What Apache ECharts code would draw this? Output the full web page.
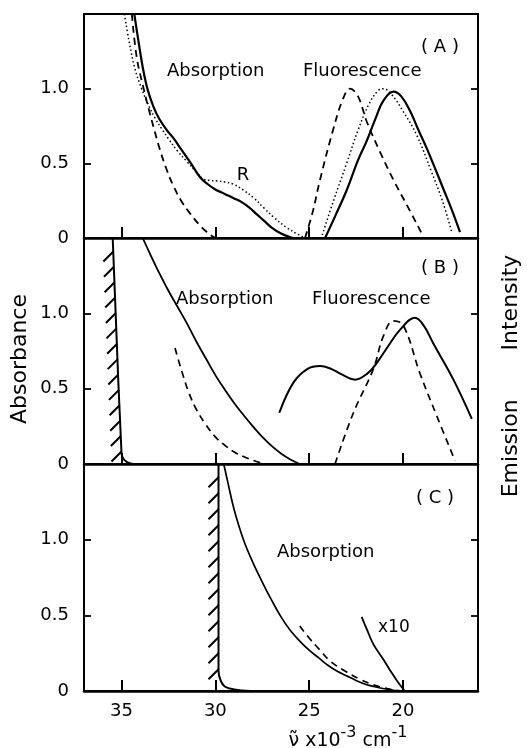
<!DOCTYPE html>
<html><head><meta charset="utf-8">
<script src="https://cdn.jsdelivr.net/npm/echarts@6/dist/echarts.min.js"></script>
<style>html,body{margin:0;padding:0;background:#fff;}#c{width:527px;height:748px;}</style>
</head><body><div id="c"></div>
<script>
// ---- axis ticks ----
const xTicks = [35, 30, 25, 20];
const yTickLabels = [0, 0.5, 1.0];
const yInnerTicks = [0.5, 1.0];

// ---- Panel A (wavenumber x10^-3 cm^-1, absorbance / intensity) ----
const A_absSolid = [[34.32,1.5],[34.1,1.32],[33.85,1.13],[33.6,0.99],[33.3,0.88],[33.0,0.8],[32.6,0.725],[32.24,0.67],[31.8,0.59],[31.3,0.5],[30.8,0.405],[30.4,0.36],[30.0,0.325],[29.5,0.295],[29.0,0.265],[28.6,0.24],[28.2,0.205],[27.8,0.16],[27.4,0.115],[27.0,0.07],[26.5,0.03],[26.0,0.005],[25.8,0.0]];
const A_absDotted = [[34.85,1.5],[34.6,1.32],[34.3,1.14],[33.93,1.0],[33.6,0.9],[33.2,0.8],[32.8,0.72],[32.5,0.665],[32.0,0.58],[31.5,0.51],[31.0,0.44],[30.64,0.395],[30.3,0.385],[29.9,0.382],[29.5,0.375],[29.04,0.36],[28.5,0.32],[27.97,0.27],[27.4,0.2],[26.9,0.14],[26.2,0.07],[25.6,0.025],[25.2,0.0]];
const A_absDashed = [[34.45,1.5],[34.19,1.21],[33.84,1.01],[33.48,0.83],[33.2,0.7],[32.95,0.59],[32.6,0.46],[32.24,0.35],[31.8,0.245],[31.35,0.165],[30.9,0.095],[30.5,0.045],[30.2,0.015],[30.0,0.0]];
const A_fluSolid = [[24.15,0.0],[23.6,0.15],[23.0,0.32],[22.4,0.52],[21.93,0.65],[21.4,0.82],[21.04,0.92],[20.51,0.98],[20.1,0.95],[19.62,0.85],[19.2,0.73],[18.73,0.6],[18.3,0.47],[17.85,0.33],[17.4,0.19],[16.96,0.04]];
const A_fluDotted = [[24.3,0.02],[23.7,0.25],[23.0,0.5],[22.4,0.72],[21.8,0.9],[21.3,0.99],[21.04,1.0],[20.6,0.96],[20.0,0.85],[19.27,0.69],[18.5,0.45],[17.9,0.25],[17.4,0.04]];
const A_fluDashed = [[25.22,0.0],[24.8,0.18],[24.42,0.39],[23.71,0.73],[23.2,0.93],[22.82,1.0],[22.4,0.95],[21.93,0.78],[21.2,0.57],[20.51,0.39],[19.62,0.18],[19.0,0.03],[18.9,0.0]];

// ---- Panel B ----
const B_cutoff = [[35.47,1.5],[35.0,0.07],[34.9,0.035],[34.7,0.012],[34.4,0.0]];
const B_absSolid = [[33.87,1.5],[33.5,1.4],[33.0,1.27],[32.5,1.15],[32.0,1.04],[31.5,0.93],[31.0,0.81],[30.5,0.7],[30.0,0.59],[29.5,0.495],[29.0,0.405],[28.5,0.325],[28.0,0.25],[27.5,0.18],[27.0,0.12],[26.5,0.07],[26.0,0.03],[25.5,0.0]];
const B_absDashed = [[32.15,0.77],[31.8,0.62],[31.4,0.47],[31.0,0.36],[30.5,0.26],[30.0,0.18],[29.5,0.125],[29.0,0.08],[28.5,0.05],[28.0,0.025],[27.44,0.0]];
const B_fluSolid = [[26.59,0.34],[25.84,0.54],[25.1,0.63],[24.42,0.65],[23.8,0.63],[23.35,0.60],[22.55,0.56],[21.9,0.6],[21.4,0.67],[20.8,0.78],[20.16,0.89],[19.36,0.97],[18.9,0.92],[18.38,0.80],[17.31,0.56],[16.33,0.30]];
const B_fluDashed = [[23.62,0.0],[22.64,0.34],[21.58,0.63],[21.04,0.85],[20.51,0.95],[19.98,0.92],[19.09,0.60],[18.2,0.32],[17.22,0.02]];

// ---- Panel C ----
const C_cutoff = [[29.83,1.5],[29.83,0.13],[29.72,0.07],[29.5,0.03],[29.0,0.01],[28.1,0.0]];
const C_absSolid = [[29.55,1.5],[29.3,1.36],[29.0,1.2],[28.5,1.0],[28.0,0.85],[27.5,0.72],[27.0,0.6],[26.5,0.49],[26.0,0.4],[25.5,0.33],[25.0,0.27],[24.5,0.22],[24.0,0.17],[23.5,0.13],[23.0,0.1],[22.5,0.07],[22.0,0.045],[21.5,0.028],[21.0,0.015],[20.5,0.005],[20.07,0.0]];
const C_absDashed = [[25.5,0.43],[25.0,0.35],[24.42,0.27],[23.9,0.2],[23.0,0.125],[22.3,0.078],[21.6,0.042],[21.0,0.02],[20.4,0.005],[20.1,0.0]];
const C_x10 = [[22.2,0.49],[21.9,0.40],[21.58,0.31],[21.05,0.21],[20.6,0.12],[20.3,0.065],[20.0,0.015],[19.9,0.0]];

const FONT = 'DejaVu Sans';
const grids = [
  {left:84, right:49, top:14, height:224},
  {left:84, right:49, top:238, height:226},
  {left:84, right:49, top:464, height:227}
];

const xAxes = grids.map((g,i)=>({
  gridIndex:i, type:'value', min:16, max:37, inverse:true,
  axisLine:{show:true, onZero:false, lineStyle:{color:'#000', width:2.5}},
  axisTick:{show:true, inside:true, length:11, customValues:xTicks, lineStyle:{color:'#000', width:2}},
  axisLabel:{show:i===2, customValues:xTicks, margin:11, color:'#000', fontFamily:FONT, fontSize:18},
  splitLine:{show:false}
}));

const yAxes = [];
grids.forEach((g,i)=>{
  yAxes.push({
    gridIndex:i, type:'value', min:0, max:1.5, position:'left',
    axisLine:{show:true, lineStyle:{color:'#000', width:2}},
    axisTick:{show:true, inside:true, length:7, customValues:yInnerTicks, lineStyle:{color:'#000', width:1.8}},
    axisLabel:{show:true, customValues:yTickLabels, margin:15, color:'#000', fontFamily:FONT, fontSize:18,
      formatter:v=> v===0 ? '0' : v.toFixed(1)},
    splitLine:{show:false}
  });
  yAxes.push({
    gridIndex:i, type:'value', min:0, max:1.5, position:'right',
    axisLine:{show:true, lineStyle:{color:'#000', width:1.6}},
    axisTick:{show:true, inside:true, length:7, customValues:yInnerTicks, lineStyle:{color:'#000', width:1.8}},
    axisLabel:{show:false},
    splitLine:{show:false}
  });
});

function line(gi, data, width, type){
  return {type:'line', xAxisIndex:gi, yAxisIndex:gi*2, data:data, showSymbol:false, symbol:'none',
    smooth:0.4, silent:true, clip:true,
    lineStyle:{color:'#000', width:width, type:type||'solid', cap:'butt'}};
}
// hatch marks along the filter cut-off edge (first two points of the cut-off curve)
function hatch(gi, cut, spacing){
  return {type:'custom', xAxisIndex:gi, yAxisIndex:gi*2, clip:false, silent:true, z:5,
    dimensions:['x1','y1','x2','y2'],
    encode:{x:['x1','x2'], y:['y1','y2']},
    data:[[cut[0][0], cut[0][1], cut[1][0], cut[1][1]]],
    renderItem:function(params, api){
      const p1 = api.coord([api.value('x1'), api.value('y1')]);
      const p2 = api.coord([api.value('x2'), api.value('y2')]);
      const len = Math.hypot(p1[0]-p2[0], p1[1]-p2[1]);
      let d = '';
      for(let s=0; s<len-6; s+=spacing){
        const t = s/len;
        const x = p2[0] + (p1[0]-p2[0])*t;
        const y = p2[1] + (p1[1]-p2[1])*t;
        d += 'M'+(x-10).toFixed(2)+' '+(y+8).toFixed(2)+'L'+(x-3).toFixed(2)+' '+(y+1).toFixed(2)+'L'+x.toFixed(2)+' '+(y-2).toFixed(2);
      }
      return {type:'path', shape:{pathData:d},
        style:{stroke:'#000', fill:'none', lineWidth:2}};
    }};
}

const dash = [7,5], dot = [1.5,2.5];
const series = [
  line(0, A_absSolid, 2.2), line(0, A_absDotted, 1.5, dot), line(0, A_absDashed, 1.8, dash),
  line(0, A_fluSolid, 2.2), line(0, A_fluDotted, 1.5, dot), line(0, A_fluDashed, 1.8, dash),
  line(1, B_cutoff, 2), hatch(1, B_cutoff, 15.4),
  line(1, B_absSolid, 1.8), line(1, B_absDashed, 1.7, dash),
  line(1, B_fluSolid, 2), line(1, B_fluDashed, 1.7, dash),
  line(2, C_cutoff, 2), hatch(2, C_cutoff, 16),
  line(2, C_absSolid, 1.7), line(2, C_absDashed, 1.7, dash), line(2, C_x10, 1.8)
];

function txt(x, y, s, size, align){
  return {type:'text', x:x, y:y, silent:true,
    style:{text:s, fill:'#000', font: size+'px "'+FONT+'"', textAlign:align||'left', textVerticalAlign:'middle'}};
}
const graphic = [
  txt(440,47,'( A )',18,'center'), txt(167,71,'Absorption',18), txt(303,71,'Fluorescence',18), txt(243,175,'R',18,'center'),
  txt(440,268,'( B )',18,'center'), txt(176,299,'Absorption',18), txt(312,299,'Fluorescence',18),
  txt(435,498,'( C )',18,'center'), txt(277,552,'Absorption',18), txt(378,628,'x10',17),
  {type:'text', x:20, y:359, rotation:Math.PI/2, silent:true,
    style:{text:'Absorbance', fill:'#000', font:'22px "'+FONT+'"', textAlign:'center', textVerticalAlign:'middle'}},
  {type:'text', x:511, y:376, rotation:Math.PI/2, silent:true,
    style:{text:'Emission       Intensity', fill:'#000', font:'22px "'+FONT+'"', textAlign:'center', textVerticalAlign:'middle'}},
  {type:'text', x:348, y:738, silent:true,
    style:{text:'{a|ν̃ x10}{s|-3}{a| cm}{s|-1}', textAlign:'center', textVerticalAlign:'middle',
      rich:{
        a:{fontFamily:FONT, fontSize:19, fill:'#000', lineHeight:26, verticalAlign:'bottom'},
        s:{fontFamily:FONT, fontSize:16, fill:'#000', lineHeight:26, verticalAlign:'top'}
      }}}
];

const chart = echarts.init(document.getElementById('c'), null, {renderer:'canvas'});
chart.setOption({
  animation:false, backgroundColor:'#fff',
  grid: grids.map(g=>Object.assign({show:true, borderColor:'#000', borderWidth:2, backgroundColor:'transparent', containLabel:false, outerBoundsMode:'none'}, g)),
  xAxis:xAxes, yAxis:yAxes, series:series, graphic:graphic
});
</script></body></html>
